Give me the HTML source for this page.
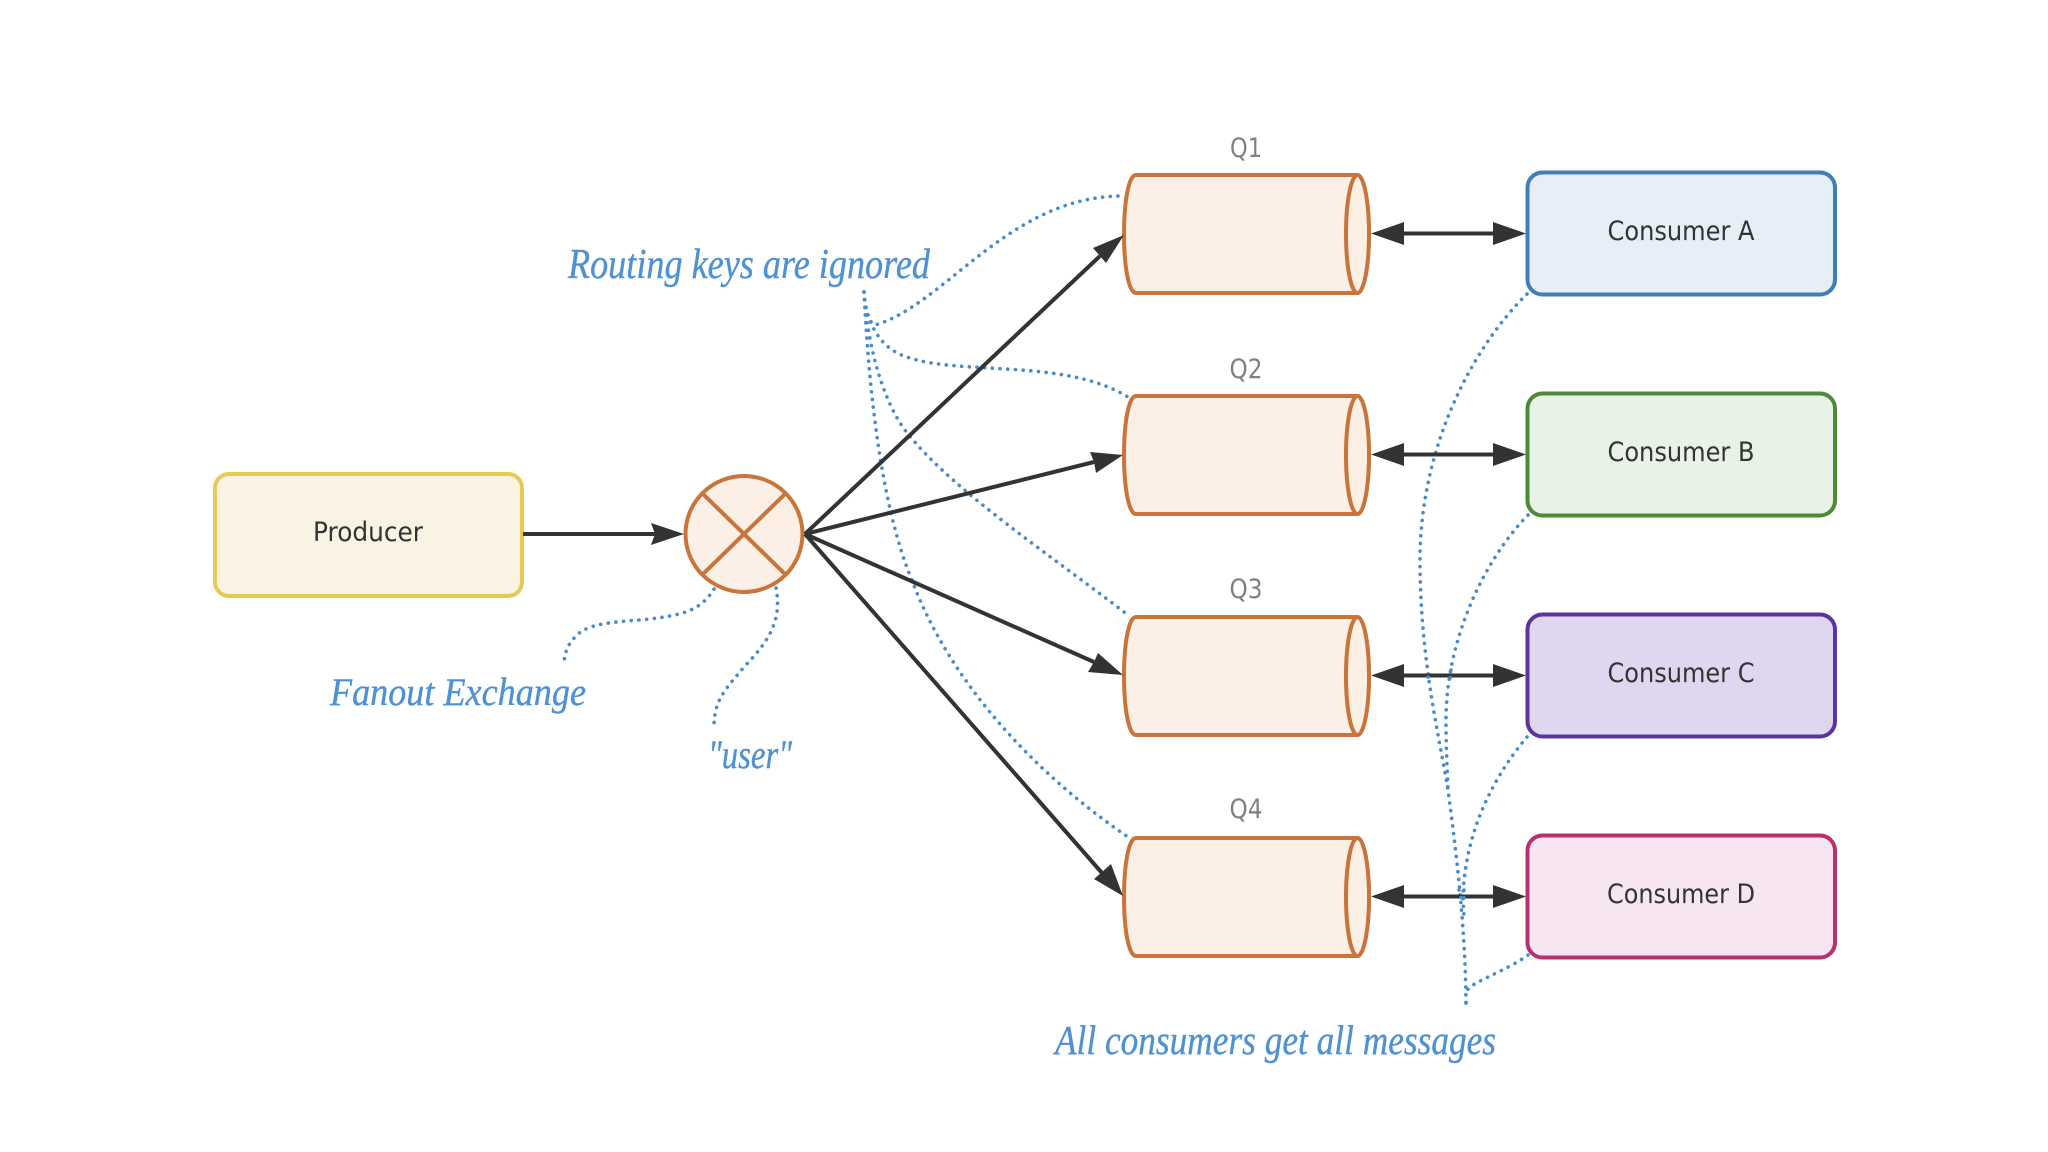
<!DOCTYPE html>
<html><head><meta charset="utf-8"><style>
html,body{margin:0;padding:0;background:#fff}
svg{display:block}
.n{font-family:"DejaVu Sans",sans-serif;font-size:27px;fill:#333;text-anchor:middle}
.q{font-family:"DejaVu Sans",sans-serif;font-size:27px;fill:#808080;text-anchor:middle}
.h{font-family:"Liberation Serif",serif;font-style:italic;fill:#4f92d4;stroke:#4f92d4;stroke-width:.4}
.d{fill:none;stroke:#4a8cc8;stroke-width:3.6;stroke-linecap:round;stroke-dasharray:.1 7.6}
.a{stroke:#333;stroke-width:4;fill:none}
.c{fill:#fbefe6;stroke:#c8743a;stroke-width:4}
</style></head><body>
<svg width="2048" height="1152" viewBox="0 0 2048 1152" xmlns="http://www.w3.org/2000/svg">
<rect width="2048" height="1152" fill="#fff"/>
<defs>
<g id="cyl">
<path class="c" d="M1136 0H1357C1364 0 1369 30 1369 59C1369 88 1364 118 1357 118H1136C1128 118 1124 88 1124 59C1124 30 1128 0 1136 0Z"/>
<ellipse cx="1357.5" cy="59" rx="11.5" ry="59" class="c"/>
</g>
</defs>

<!-- dotted lines -->
<path class="d" d="M864 292C865 305 866 320 875 325C945 305 1010 195 1124 196"/>
<path class="d" d="M864 292C866 320 878 348 907 357C960 376 1065 358 1128 397"/>
<path class="d" d="M864 292C868 350 885 410 913 440C960 495 1050 555 1128 615"/>
<path class="d" d="M864 292C868 370 878 500 913 583C950 680 1030 770 1128 837"/>
<path class="d" d="M1527 294C1470 350 1420 450 1420 560C1420 660 1440 740 1448 790C1456 850 1466 930 1466 1010"/>
<path class="d" d="M1528 515C1484 560 1446 640 1446 720C1446 745 1447 765 1448 790"/>
<path class="d" d="M1527 737C1495 775 1465 830 1463 897C1463 905 1464 912 1464 920"/>
<path class="d" d="M1528 955C1510 968 1490 975 1473 985L1467 990"/>
<path class="d" d="M1466 1003V1010"/>
<path class="d" d="M714 589C700 612 680 615 650 619C620 622 590 622 577 635C567 645 565 652 564 663"/>
<path class="d" d="M776 588C782 620 770 640 744 667C725 690 714 700 714 727"/>

<!-- boxes -->
<rect x="215" y="474" width="307" height="122" rx="14" fill="#f8f3e3" stroke="#e9c956" stroke-width="4"/>
<rect x="1527.5" y="172.5" width="307.500" height="122" rx="15" fill="#e6eff8" stroke="#3f7fb6" stroke-width="4"/>
<rect x="1527.500" y="393.500" width="307.500" height="122" rx="15" fill="#e8f2e6" stroke="#4c8a38" stroke-width="4"/>
<rect x="1527.500" y="614.500" width="307.500" height="122" rx="15" fill="#dfd6ef" stroke="#5a35a0" stroke-width="4"/>
<rect x="1527.500" y="835.500" width="307.500" height="122" rx="15" fill="#f7e6f2" stroke="#b9306e" stroke-width="4"/>

<text x="368" y="541" class="n" textLength="110" lengthAdjust="spacingAndGlyphs">Producer</text>
<text x="1681" y="240" class="n" textLength="147" lengthAdjust="spacingAndGlyphs">Consumer A</text>
<text x="1681" y="461" class="n" textLength="147" lengthAdjust="spacingAndGlyphs">Consumer B</text>
<text x="1681" y="682" class="n" textLength="147" lengthAdjust="spacingAndGlyphs">Consumer C</text>
<text x="1681" y="903" class="n" textLength="148" lengthAdjust="spacingAndGlyphs">Consumer D</text>

<!-- cylinders -->
<use href="#cyl" y="175"/>
<use href="#cyl" y="396"/>
<use href="#cyl" y="617"/>
<use href="#cyl" y="838"/>
<text x="1246" y="157" class="q" textLength="32" lengthAdjust="spacingAndGlyphs">Q1</text>
<text x="1246" y="378" class="q" textLength="33" lengthAdjust="spacingAndGlyphs">Q2</text>
<text x="1246" y="598" class="q" textLength="33" lengthAdjust="spacingAndGlyphs">Q3</text>
<text x="1246" y="818" class="q" textLength="33" lengthAdjust="spacingAndGlyphs">Q4</text>

<!-- exchange -->
<ellipse cx="744" cy="534" rx="58.500" ry="58" class="c"/>
<path d="M702 493L786 575M786 493L702 575" stroke="#c8743a" stroke-width="4" fill="none"/>

<!-- arrows -->
<path class="a" d="M523 534H655"/>
<path d="M684 534L651 523L655 534L651 545Z" fill="#333"/>
<path class="a" d="M805 534L1100 256"/>
<path d="M1124 235L1093 248L1100 256L1106 263Z" fill="#333"/>
<path class="a" d="M805 534L1094 462"/>
<path d="M1123 455L1090 452L1094 462L1096 473Z" fill="#333"/>
<path class="a" d="M805 534L1094 662"/>
<path d="M1123 675L1098 653L1094 662L1088 672Z" fill="#333"/>
<path class="a" d="M805 534L1102 873"/>
<path d="M1123 896L1111 864L1102 872L1094 879Z" fill="#333"/>

<g>
<path class="a" d="M1395 233.500H1500"/>
<path d="M1371 233.500L1404 222V245Z" fill="#333"/><path d="M1526 233.500L1493 222V245Z" fill="#333"/>
<path class="a" d="M1395 454.500H1500"/>
<path d="M1371 454.500L1404 443V466Z" fill="#333"/><path d="M1526 454.500L1493 443V466Z" fill="#333"/>
<path class="a" d="M1395 675.500H1500"/>
<path d="M1371 675.500L1404 664V687Z" fill="#333"/><path d="M1526 675.500L1493 664V687Z" fill="#333"/>
<path class="a" d="M1395 896.500H1500"/>
<path d="M1371 896.500L1404 885V908Z" fill="#333"/><path d="M1526 896.500L1493 885V908Z" fill="#333"/>
</g>
<!-- dots crossing the double arrows -->
<path class="d" d="M1428 677L1429 684"/>
<path class="d" d="M1451 670L1450 682"/>
<path class="d" d="M1459 890L1462 902"/>
<path class="d" d="M1464 890L1464 902"/>

<!-- handwritten labels -->
<text x="568" y="278" class="h" font-size="42" textLength="362" lengthAdjust="spacingAndGlyphs">Routing keys are ignored</text>
<text x="330" y="705" class="h" font-size="39" textLength="256" lengthAdjust="spacingAndGlyphs">Fanout Exchange</text>
<text x="708" y="768" class="h" font-size="40" textLength="84" lengthAdjust="spacingAndGlyphs">"user"</text>
<text x="1055" y="1054" class="h" font-size="41" textLength="441" lengthAdjust="spacingAndGlyphs">All consumers get all messages</text>
</svg>
</body></html>
